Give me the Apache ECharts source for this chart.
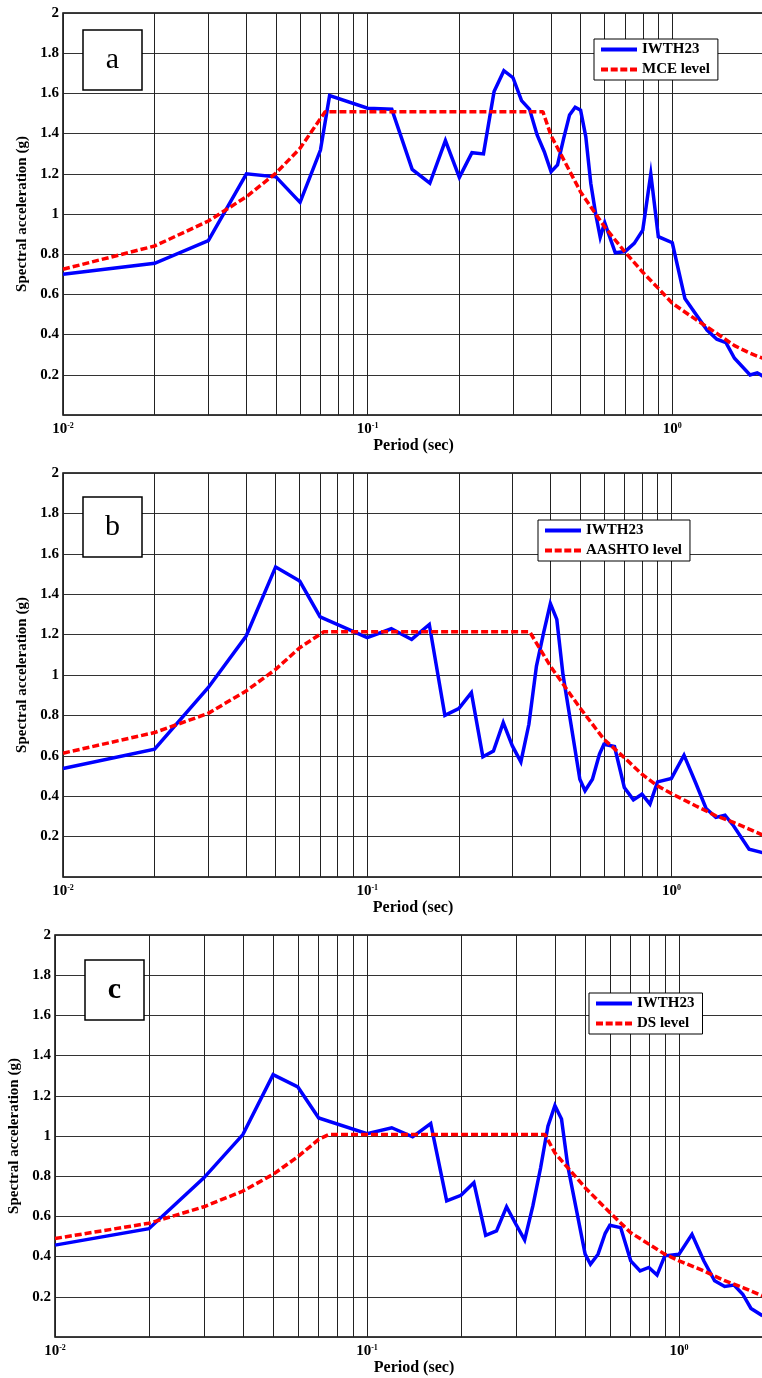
<!DOCTYPE html>
<html>
<head>
<meta charset="utf-8">
<title>Spectral acceleration – IWTH23</title>
<script src="https://cdn.jsdelivr.net/npm/echarts@6/dist/echarts.min.js"></script>
<style>
  html, body { margin: 0; padding: 0; background: #fff; }
  #chart { width: 762px; height: 1378px; }
</style>
</head>
<body>
<div id="chart"></div>
<script>
// ---- Panel a: record vs. MCE level ----
const periodsA = [0.01, 0.02, 0.03, 0.04, 0.05, 0.06, 0.07, 0.075, 0.1, 0.12, 0.14, 0.16, 0.18, 0.2, 0.22, 0.24, 0.26, 0.28, 0.3, 0.32, 0.34, 0.36, 0.38, 0.4, 0.42, 0.44, 0.46, 0.48, 0.5, 0.52, 0.54, 0.56, 0.58, 0.6, 0.65, 0.7, 0.75, 0.8, 0.85, 0.9, 1.0, 1.1, 1.2, 1.3, 1.4, 1.5, 1.6, 1.8, 1.9, 2.0];
const recordA  = [0.70, 0.755, 0.867, 1.20, 1.185, 1.058, 1.318, 1.589, 1.526, 1.521, 1.222, 1.153, 1.365, 1.182, 1.305, 1.299, 1.609, 1.713, 1.678, 1.564, 1.521, 1.393, 1.31, 1.21, 1.244, 1.376, 1.493, 1.531, 1.517, 1.385, 1.153, 1.003, 0.884, 0.957, 0.807, 0.813, 0.854, 0.92, 1.199, 0.887, 0.857, 0.58, 0.498, 0.423, 0.377, 0.36, 0.282, 0.199, 0.21, 0.19];
const levelPeriodsA = [0.01, 0.02, 0.03, 0.04, 0.05, 0.06, 0.0725, 0.376, 0.4, 0.5, 0.6, 0.7, 0.8, 0.9, 1.0, 1.2, 1.4, 1.6, 1.8, 2.0];
const levelA        = [0.725, 0.841, 0.965, 1.086, 1.203, 1.327, 1.509, 1.509, 1.39, 1.11, 0.935, 0.81, 0.71, 0.63, 0.556, 0.473, 0.406, 0.345, 0.307, 0.28];

// ---- Panel b: record vs. AASHTO level ----
const periodsB = [0.01, 0.02, 0.03, 0.04, 0.05, 0.06, 0.07, 0.1, 0.12, 0.14, 0.16, 0.18, 0.2, 0.22, 0.24, 0.26, 0.28, 0.3, 0.32, 0.34, 0.36, 0.38, 0.4, 0.42, 0.44, 0.5, 0.52, 0.55, 0.58, 0.6, 0.65, 0.7, 0.75, 0.8, 0.85, 0.9, 1.0, 1.1, 1.2, 1.3, 1.4, 1.5, 1.6, 1.8, 2.0];
const recordB  = [0.537, 0.633, 0.937, 1.193, 1.535, 1.465, 1.288, 1.185, 1.229, 1.176, 1.25, 0.80, 0.834, 0.913, 0.595, 0.624, 0.764, 0.649, 0.57, 0.756, 1.044, 1.209, 1.354, 1.275, 1.003, 0.484, 0.427, 0.484, 0.608, 0.657, 0.646, 0.443, 0.382, 0.41, 0.361, 0.471, 0.488, 0.603, 0.468, 0.339, 0.295, 0.306, 0.254, 0.138, 0.12];
const levelPeriodsB = [0.01, 0.02, 0.03, 0.04, 0.05, 0.06, 0.072, 0.342, 0.4, 0.5, 0.6, 0.7, 0.8, 0.9, 1.0, 1.2, 1.4, 1.6, 1.8, 2.0];
const levelB        = [0.613, 0.715, 0.81, 0.921, 1.028, 1.135, 1.214, 1.214, 1.044, 0.838, 0.682, 0.591, 0.509, 0.451, 0.413, 0.353, 0.303, 0.27, 0.237, 0.207];

// ---- Panel c: record vs. DS level ----
const periodsC = [0.01, 0.02, 0.03, 0.04, 0.05, 0.06, 0.07, 0.1, 0.12, 0.14, 0.16, 0.18, 0.2, 0.22, 0.24, 0.26, 0.28, 0.3, 0.32, 0.34, 0.36, 0.38, 0.4, 0.42, 0.44, 0.5, 0.52, 0.55, 0.58, 0.6, 0.65, 0.7, 0.75, 0.8, 0.85, 0.9, 1.0, 1.1, 1.2, 1.3, 1.4, 1.5, 1.6, 1.7, 1.85];
const recordC  = [0.457, 0.539, 0.792, 1.007, 1.305, 1.244, 1.09, 1.012, 1.041, 0.996, 1.062, 0.677, 0.705, 0.768, 0.506, 0.528, 0.648, 0.561, 0.483, 0.652, 0.842, 1.049, 1.151, 1.085, 0.85, 0.412, 0.362, 0.412, 0.516, 0.556, 0.544, 0.379, 0.329, 0.346, 0.308, 0.404, 0.412, 0.511, 0.379, 0.28, 0.251, 0.258, 0.213, 0.142, 0.106];
const levelPeriodsC = [0.01, 0.02, 0.03, 0.04, 0.05, 0.06, 0.07, 0.0753, 0.372, 0.4, 0.5, 0.6, 0.7, 0.8, 0.9, 1.0, 1.2, 1.4, 1.6, 1.85, 2.0];
const levelC        = [0.49, 0.566, 0.648, 0.726, 0.809, 0.897, 0.983, 1.007, 1.007, 0.916, 0.743, 0.619, 0.519, 0.462, 0.412, 0.379, 0.329, 0.28, 0.246, 0.205, 0.19];

// Series names and panel tags
const recordName = 'IWTH23';
const levelNames = ['MCE level', 'AASHTO level', 'DS level'];
const panelTags = ['a', 'b', 'c'];

// Log-grid periods between the decades
const minorPeriods = [0.02, 0.03, 0.04, 0.05, 0.06, 0.07, 0.08, 0.09, 0.2, 0.3, 0.4, 0.5, 0.6, 0.7, 0.8, 0.9];

const SERIF = '"Liberation Serif", "Times New Roman", serif';

// Legend keys: a solid bar and a dashed bar, 36 x 4
const solidKey = 'path://M0,0H36V4H0Z';
const dashedKey = 'path://M0,0H7V4H0Z M9.7,0H16.7V4H9.7Z M19.3,0H26.3V4H19.3Z M29,0H36V4H29Z';

const panels = [
  { grid: { left: 63, top: 13, width: 701, height: 402 },
    periods: periodsA, record: recordA, levelPeriods: levelPeriodsA, level: levelA,
    legend: { left: 594, top: 39 },
    tagBox: { x: 83, y: 30, w: 59, h: 60 }, tagBold: false },
  { grid: { left: 63, top: 473, width: 700, height: 404 },
    periods: periodsB, record: recordB, levelPeriods: levelPeriodsB, level: levelB,
    legend: { left: 538, top: 520 },
    tagBox: { x: 83, y: 497, w: 59, h: 60 }, tagBold: false },
  { grid: { left: 55, top: 935, width: 718, height: 402 },
    periods: periodsC, record: recordC, levelPeriods: levelPeriodsC, level: levelC,
    legend: { left: 589, top: 993 },
    tagBox: { x: 85, y: 960, w: 59, h: 60 }, tagBold: true }
];

const pairs = (xs, ys) => xs.map((x, i) => [x, ys[i]]);

const option = {
  animation: false,
  backgroundColor: '#fff',
  grid: [], xAxis: [], yAxis: [], series: [], legend: [], graphic: []
};

panels.forEach((p, i) => {
  option.grid.push(Object.assign({
    show: true, backgroundColor: '#fff', borderColor: '#000', borderWidth: 1.5,
    containLabel: false, outerBoundsMode: 'none'
  }, p.grid));

  option.xAxis.push({
    type: 'log', logBase: 10, min: 0.01, max: 2, gridIndex: i,
    name: 'Period (sec)', nameLocation: 'middle', nameGap: 23,
    nameTextStyle: { fontFamily: SERIF, fontWeight: 'bold', fontSize: 16, color: '#000' },
    axisLine: { show: false }, axisTick: { show: false },
    splitLine: { show: true, lineStyle: { color: '#222', width: 1 } },
    axisLabel: {
      margin: 7,
      formatter: v => {
        const e = Math.round(Math.log10(v));
        if (Math.abs(Math.log10(v) - e) > 1e-6) return '';
        return '{b|10}{s|' + e + '}';
      },
      rich: {
        b: { fontFamily: SERIF, fontWeight: 'bold', fontSize: 15, color: '#000' },
        s: { fontFamily: SERIF, fontWeight: 'bold', fontSize: 8, color: '#000', verticalAlign: 'top' }
      }
    }
  });

  option.yAxis.push({
    type: 'value', min: 0, max: 2, interval: 0.2, gridIndex: i,
    name: 'Spectral acceleration (g)', nameLocation: 'middle', nameGap: 30,
    nameTextStyle: { fontFamily: SERIF, fontWeight: 'bold', fontSize: 15, color: '#000' },
    axisLine: { show: false }, axisTick: { show: false },
    splitLine: { show: true, lineStyle: { color: '#333', width: 1 } },
    axisLabel: {
      margin: 4, fontFamily: SERIF, fontWeight: 'bold', fontSize: 15, color: '#000',
      formatter: v => (v === 0 ? '' : String(+v.toFixed(1)))
    }
  });

  // vertical log-grid lines
  option.series.push({
    type: 'line', name: 'grid-' + i, xAxisIndex: i, yAxisIndex: i, data: [],
    silent: true,
    markLine: {
      silent: true, symbol: 'none', z: 1, animation: false,
      label: { show: false },
      lineStyle: { color: '#222', width: 1, type: 'solid' },
      emphasis: { disabled: true },
      data: minorPeriods.map(t => ({ xAxis: t }))
    }
  });

  option.series.push({
    type: 'line', name: recordName, xAxisIndex: i, yAxisIndex: i,
    data: pairs(p.periods, p.record), symbol: 'none', z: 3,
    lineStyle: { color: '#0000ff', width: 3.5, join: 'miter' },
    itemStyle: { color: '#0000ff' }
  });

  option.series.push({
    type: 'line', name: levelNames[i], xAxisIndex: i, yAxisIndex: i,
    data: pairs(p.levelPeriods, p.level), symbol: 'none', z: 4,
    lineStyle: { color: '#ff0000', width: 3.5, type: [7, 3] },
    itemStyle: { color: '#ff0000' }
  });

  option.legend.push({
    data: [
      { name: recordName, icon: solidKey },
      { name: levelNames[i], icon: dashedKey }
    ],
    orient: 'vertical', left: p.legend.left, top: p.legend.top,
    padding: [3, 8, 3, 7], itemWidth: 36, itemHeight: 4, itemGap: 5,
    symbolKeepAspect: false,
    backgroundColor: '#fff', borderColor: '#000', borderWidth: 1,
    selectedMode: false, z: 10,
    textStyle: { fontFamily: SERIF, fontWeight: 'bold', fontSize: 15, color: '#000' }
  });

  const b = p.tagBox;
  option.graphic.push({
    type: 'rect', z: 20,
    shape: { x: b.x, y: b.y, width: b.w, height: b.h },
    style: { fill: '#fff', stroke: '#000', lineWidth: 1.5 }
  });
  option.graphic.push({
    type: 'text', z: 21,
    x: b.x + b.w / 2, y: b.y + b.h / 2,
    style: {
      text: panelTags[i], fill: '#000',
      font: (p.tagBold ? 'bold ' : '') + '30px ' + SERIF,
      textAlign: 'center', textVerticalAlign: 'middle'
    }
  });
});

const chart = echarts.init(document.getElementById('chart'), null, { renderer: 'canvas' });
chart.setOption(option);
</script>
</body>
</html>
